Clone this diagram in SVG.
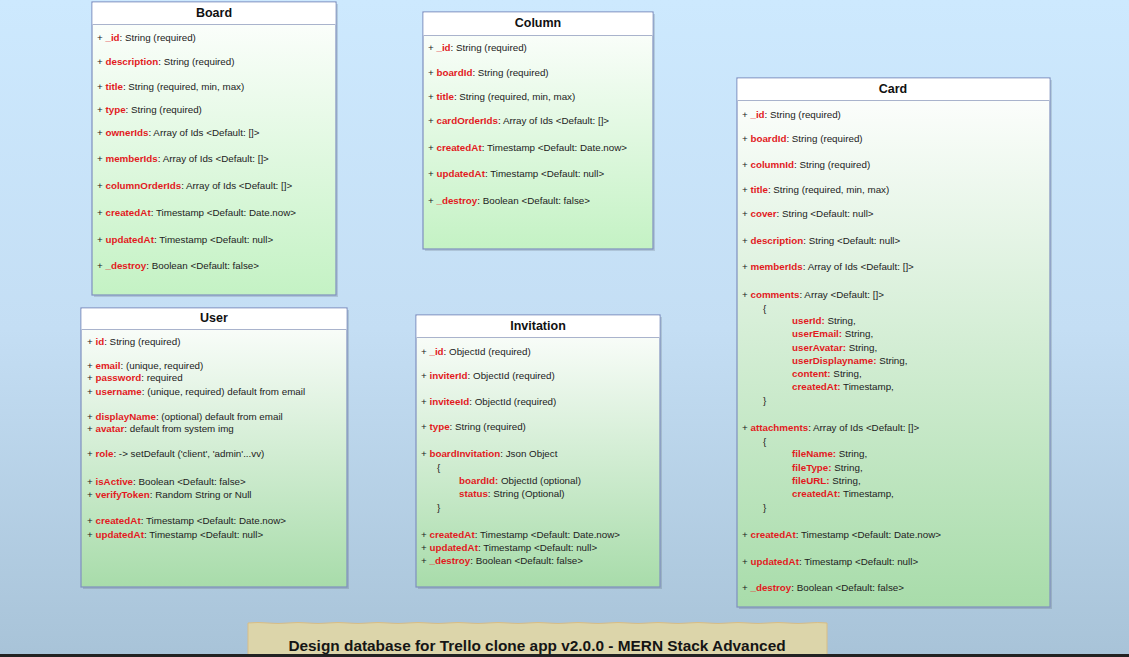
<svg xmlns="http://www.w3.org/2000/svg" width="1129" height="657" viewBox="0 0 1129 657">
<defs>
<linearGradient id="bg" x1="0" y1="0" x2="0" y2="1">
<stop offset="0" stop-color="#cde9fe"/>
<stop offset="0.5" stop-color="#c4def4"/>
<stop offset="1" stop-color="#a8c3d8"/>
</linearGradient>
<linearGradient id="g1" x1="0" y1="0" x2="0" y2="1">
<stop offset="0" stop-color="#ffffff"/>
<stop offset="1" stop-color="#c4f2c4"/>
</linearGradient>
<linearGradient id="g2" x1="0" y1="0" x2="0" y2="1">
<stop offset="0" stop-color="#ffffff"/>
<stop offset="1" stop-color="#a8dcaa"/>
</linearGradient>
<style>
.box{stroke:#7f8fbf;stroke-width:1.2}
.shadow{fill:#000;opacity:0.12}
.hdr{fill:#ffffff}
.sep{stroke:#a9b3cc;stroke-width:1}
.t{font-family:"Liberation Sans",Arial,sans-serif;font-size:9.8px;fill:#222}
.k{font-weight:bold;fill:#e21a1e}
.h{font-family:"Liberation Sans",Arial,sans-serif;font-size:12.5px;font-weight:bold;fill:#111;text-anchor:middle}
.ban{font-family:"Liberation Sans",Arial,sans-serif;font-size:15.4px;font-weight:bold;fill:#151515;text-anchor:middle}
</style>
</defs>
<rect x="0" y="0" width="1129" height="657" fill="url(#bg)"/>

<g id="connectors"></g>

<g id="board">
<rect class="shadow" x="94" y="4" width="244" height="293"/>
<rect class="box" x="92" y="2" width="244" height="293" fill="url(#g1)"/>
<rect class="hdr" x="92.6" y="2.6" width="242.8" height="22"/>
<line class="sep" x1="92.6" y1="24.5" x2="335.4" y2="24.5"/>
<text class="h" x="214" y="16.5">Board</text>
<text class="t" x="97" y="41">+ <tspan class="k">_id</tspan>: String (required)</text>
<text class="t" x="97" y="65">+ <tspan class="k">description</tspan>: String (required)</text>
<text class="t" x="97" y="90">+ <tspan class="k">title</tspan>: String (required, min, max)</text>
<text class="t" x="97" y="113">+ <tspan class="k">type</tspan>: String (required)</text>
<text class="t" x="97" y="136">+ <tspan class="k">ownerIds</tspan>: Array of Ids &lt;Default: []&gt;</text>
<text class="t" x="97" y="162">+ <tspan class="k">memberIds</tspan>: Array of Ids &lt;Default: []&gt;</text>
<text class="t" x="97" y="189">+ <tspan class="k">columnOrderIds</tspan>: Array of Ids &lt;Default: []&gt;</text>
<text class="t" x="97" y="216">+ <tspan class="k">createdAt</tspan>: Timestamp &lt;Default: Date.now&gt;</text>
<text class="t" x="97" y="243">+ <tspan class="k">updatedAt</tspan>: Timestamp &lt;Default: null&gt;</text>
<text class="t" x="97" y="269">+ <tspan class="k">_destroy</tspan>: Boolean &lt;Default: false&gt;</text>
</g>

<g id="column">
<rect class="shadow" x="425" y="14" width="230" height="237"/>
<rect class="box" x="423" y="12" width="230" height="237" fill="url(#g1)"/>
<rect class="hdr" x="423.6" y="12.6" width="228.8" height="23"/>
<line class="sep" x1="423.6" y1="35.5" x2="652.4" y2="35.5"/>
<text class="h" x="538" y="26.5">Column</text>
<text class="t" x="428" y="51">+ <tspan class="k">_id</tspan>: String (required)</text>
<text class="t" x="428" y="76">+ <tspan class="k">boardId</tspan>: String (required)</text>
<text class="t" x="428" y="100">+ <tspan class="k">title</tspan>: String (required, min, max)</text>
<text class="t" x="428" y="124">+ <tspan class="k">cardOrderIds</tspan>: Array of Ids &lt;Default: []&gt;</text>
<text class="t" x="428" y="151">+ <tspan class="k">createdAt</tspan>: Timestamp &lt;Default: Date.now&gt;</text>
<text class="t" x="428" y="177">+ <tspan class="k">updatedAt</tspan>: Timestamp &lt;Default: null&gt;</text>
<text class="t" x="428" y="204">+ <tspan class="k">_destroy</tspan>: Boolean &lt;Default: false&gt;</text>
</g>

<g id="card">
<rect class="shadow" x="739" y="80" width="313" height="529"/>
<rect class="box" x="737" y="78" width="313" height="529" fill="url(#g2)"/>
<rect class="hdr" x="737.6" y="78.6" width="311.8" height="22"/>
<line class="sep" x1="737.6" y1="100.5" x2="1049.4" y2="100.5"/>
<text class="h" x="893" y="92.5">Card</text>
<text class="t" x="742" y="118">+ <tspan class="k">_id</tspan>: String (required)</text>
<text class="t" x="742" y="142">+ <tspan class="k">boardId</tspan>: String (required)</text>
<text class="t" x="742" y="168">+ <tspan class="k">columnId</tspan>: String (required)</text>
<text class="t" x="742" y="193">+ <tspan class="k">title</tspan>: String (required, min, max)</text>
<text class="t" x="742" y="217">+ <tspan class="k">cover</tspan>: String &lt;Default: null&gt;</text>
<text class="t" x="742" y="244">+ <tspan class="k">description</tspan>: String &lt;Default: null&gt;</text>
<text class="t" x="742" y="270">+ <tspan class="k">memberIds</tspan>: Array of Ids &lt;Default: []&gt;</text>
<text class="t" x="742" y="298">+ <tspan class="k">comments</tspan>: Array &lt;Default: []&gt;</text>
<text class="t" x="763" y="312">{</text>
<text class="t" x="792" y="324"><tspan class="k">userId:</tspan> String,</text>
<text class="t" x="792" y="337"><tspan class="k">userEmail:</tspan> String,</text>
<text class="t" x="792" y="351"><tspan class="k">userAvatar:</tspan> String,</text>
<text class="t" x="792" y="364"><tspan class="k">userDisplayname:</tspan> String,</text>
<text class="t" x="792" y="377"><tspan class="k">content:</tspan> String,</text>
<text class="t" x="792" y="390"><tspan class="k">createdAt:</tspan> Timestamp,</text>
<text class="t" x="763" y="404">}</text>
<text class="t" x="742" y="431">+ <tspan class="k">attachments</tspan>: Array of Ids &lt;Default: []&gt;</text>
<text class="t" x="763" y="445">{</text>
<text class="t" x="792" y="457"><tspan class="k">fileName:</tspan> String,</text>
<text class="t" x="792" y="471"><tspan class="k">fileType:</tspan> String,</text>
<text class="t" x="792" y="484"><tspan class="k">fileURL:</tspan> String,</text>
<text class="t" x="792" y="497"><tspan class="k">createdAt:</tspan> Timestamp,</text>
<text class="t" x="763" y="511">}</text>
<text class="t" x="742" y="538">+ <tspan class="k">createdAt</tspan>: Timestamp &lt;Default: Date.now&gt;</text>
<text class="t" x="742" y="565">+ <tspan class="k">updatedAt</tspan>: Timestamp &lt;Default: null&gt;</text>
<text class="t" x="742" y="591">+ <tspan class="k">_destroy</tspan>: Boolean &lt;Default: false&gt;</text>
</g>

<g id="user">
<rect class="shadow" x="83" y="310" width="266" height="279"/>
<rect class="box" x="81" y="308" width="266" height="279" fill="url(#g2)"/>
<rect class="hdr" x="81.6" y="308.6" width="264.8" height="21"/>
<line class="sep" x1="81.6" y1="329.5" x2="346.4" y2="329.5"/>
<text class="h" x="214" y="322">User</text>
<text class="t" x="87" y="345">+ <tspan class="k">id</tspan>: String (required)</text>
<text class="t" x="87" y="369">+ <tspan class="k">email</tspan>: (unique, required)</text>
<text class="t" x="87" y="381">+ <tspan class="k">password</tspan>: required</text>
<text class="t" x="87" y="395">+ <tspan class="k">username</tspan>: (unique, required) default from email</text>
<text class="t" x="87" y="420">+ <tspan class="k">displayName</tspan>: (optional) default from email</text>
<text class="t" x="87" y="432">+ <tspan class="k">avatar</tspan>: default from system img</text>
<text class="t" x="87" y="457">+ <tspan class="k">role</tspan>: -&gt; setDefault ('client', 'admin'...vv)</text>
<text class="t" x="87" y="485">+ <tspan class="k">isActive</tspan>: Boolean &lt;Default: false&gt;</text>
<text class="t" x="87" y="498">+ <tspan class="k">verifyToken</tspan>: Random String or Null</text>
<text class="t" x="87" y="524">+ <tspan class="k">createdAt</tspan>: Timestamp &lt;Default: Date.now&gt;</text>
<text class="t" x="87" y="538">+ <tspan class="k">updatedAt</tspan>: Timestamp &lt;Default: null&gt;</text>
</g>

<g id="invitation">
<rect class="shadow" x="418" y="317" width="244" height="272"/>
<rect class="box" x="416" y="315" width="244" height="272" fill="url(#g2)"/>
<rect class="hdr" x="416.6" y="315.6" width="242.8" height="22"/>
<line class="sep" x1="416.6" y1="337.5" x2="659.4" y2="337.5"/>
<text class="h" x="538" y="329.5">Invitation</text>
<text class="t" x="421" y="355">+ <tspan class="k">_id</tspan>: ObjectId (required)</text>
<text class="t" x="421" y="379">+ <tspan class="k">inviterId</tspan>: ObjectId (required)</text>
<text class="t" x="421" y="405">+ <tspan class="k">inviteeId</tspan>: ObjectId (required)</text>
<text class="t" x="421" y="430">+ <tspan class="k">type</tspan>: String (required)</text>
<text class="t" x="421" y="457">+ <tspan class="k">boardInvitation</tspan>: Json Object</text>
<text class="t" x="437" y="471">{</text>
<text class="t" x="459" y="484"><tspan class="k">boardId:</tspan> ObjectId (optional)</text>
<text class="t" x="459" y="497"><tspan class="k">status</tspan>: String (Optional)</text>
<text class="t" x="437" y="511">}</text>
<text class="t" x="421" y="538">+ <tspan class="k">createdAt</tspan>: Timestamp &lt;Default: Date.now&gt;</text>
<text class="t" x="421" y="551">+ <tspan class="k">updatedAt</tspan>: Timestamp &lt;Default: null&gt;</text>
<text class="t" x="421" y="564">+ <tspan class="k">_destroy</tspan>: Boolean &lt;Default: false&gt;</text>
</g>

<g id="banner">
<path d="M248,623 Q258,622 268,623 T288,623 T308,623 T328,623 T348,623 T368,623 T388,623 T408,623 T428,623 T448,623 T468,623 T488,623 T508,623 T528,623 T548,623 T568,623 T588,623 T608,623 T628,623 T648,623 T668,623 T688,623 T708,623 T728,623 T748,623 T768,623 T788,623 T808,623 T827,623 L827,657 L248,657 Z" fill="#dcd5aa" stroke="#d9bd84" stroke-width="1"/>
<text class="ban" x="537" y="651">Design database for Trello clone app v2.0.0 - MERN Stack Advanced</text>
</g>
<rect x="0" y="654" width="1129" height="3" fill="#222222"/>
</svg>
